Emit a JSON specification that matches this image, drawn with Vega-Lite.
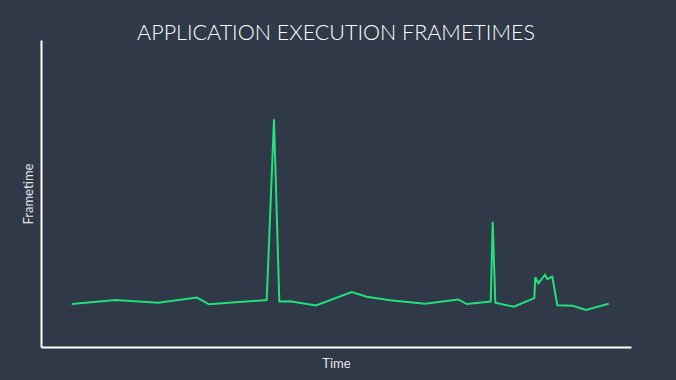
{
  "$schema": "https://vega.github.io/schema/vega-lite/v6.json",
  "width": 590,
  "height": 307,
  "autosize": {"type": "none"},
  "padding": {"left": 41, "top": 40, "right": 45, "bottom": 33},
  "background": "#2f3947",
  "title": {
    "text": "APPLICATION EXECUTION FRAMETIMES",
    "font": "Lato",
    "fontSize": 21.5,
    "fontWeight": 300,
    "color": "#ffffff",
    "anchor": "middle",
    "offset": -4
  },
  "data": {
    "values": [
      {"time": 30.7, "frametime": 14.0},
      {"time": 74.7, "frametime": 15.3},
      {"time": 117.0, "frametime": 14.4},
      {"time": 156.0, "frametime": 16.1},
      {"time": 168.0, "frametime": 13.9},
      {"time": 225.7, "frametime": 15.3},
      {"time": 233.0, "frametime": 74.2},
      {"time": 238.3, "frametime": 14.8},
      {"time": 249.0, "frametime": 14.9},
      {"time": 275.0, "frametime": 13.5},
      {"time": 310.7, "frametime": 17.9},
      {"time": 325.7, "frametime": 16.4},
      {"time": 349.0, "frametime": 15.2},
      {"time": 384.0, "frametime": 14.1},
      {"time": 417.3, "frametime": 15.5},
      {"time": 425.7, "frametime": 14.0},
      {"time": 449.7, "frametime": 14.8},
      {"time": 451.7, "frametime": 40.8},
      {"time": 454.3, "frametime": 14.4},
      {"time": 473.0, "frametime": 13.1},
      {"time": 493.3, "frametime": 15.9},
      {"time": 494.3, "frametime": 22.7},
      {"time": 497.3, "frametime": 20.7},
      {"time": 504.0, "frametime": 23.5},
      {"time": 506.3, "frametime": 22.1},
      {"time": 511.3, "frametime": 22.9},
      {"time": 516.3, "frametime": 13.6},
      {"time": 531.7, "frametime": 13.4},
      {"time": 545.0, "frametime": 12.1},
      {"time": 567.7, "frametime": 14.1}
    ]
  },
  "mark": {"type": "line", "color": "#22e07a", "strokeWidth": 2, "interpolate": "linear"},
  "encoding": {
    "x": {
      "field": "time",
      "type": "quantitative",
      "scale": {"domain": [0, 590], "nice": false, "zero": false},
      "axis": {
        "title": "Time",
        "labels": false,
        "ticks": false,
        "grid": false,
        "domainColor": "#ffffff",
        "domainWidth": 2,
        "titleFont": "Lato",
        "titleFontSize": 13,
        "titleFontWeight": "normal",
        "titleColor": "#e6e6e6",
        "titlePadding": 10
      }
    },
    "y": {
      "field": "frametime",
      "type": "quantitative",
      "scale": {"domain": [0, 100], "nice": false},
      "axis": {
        "title": "Frametime",
        "labels": false,
        "ticks": false,
        "grid": false,
        "domainColor": "#ffffff",
        "domainWidth": 2,
        "titleFont": "Lato",
        "titleFontSize": 13,
        "titleFontWeight": "normal",
        "titleColor": "#e6e6e6",
        "titlePadding": 6
      }
    }
  },
  "config": {"view": {"stroke": null}}
}
